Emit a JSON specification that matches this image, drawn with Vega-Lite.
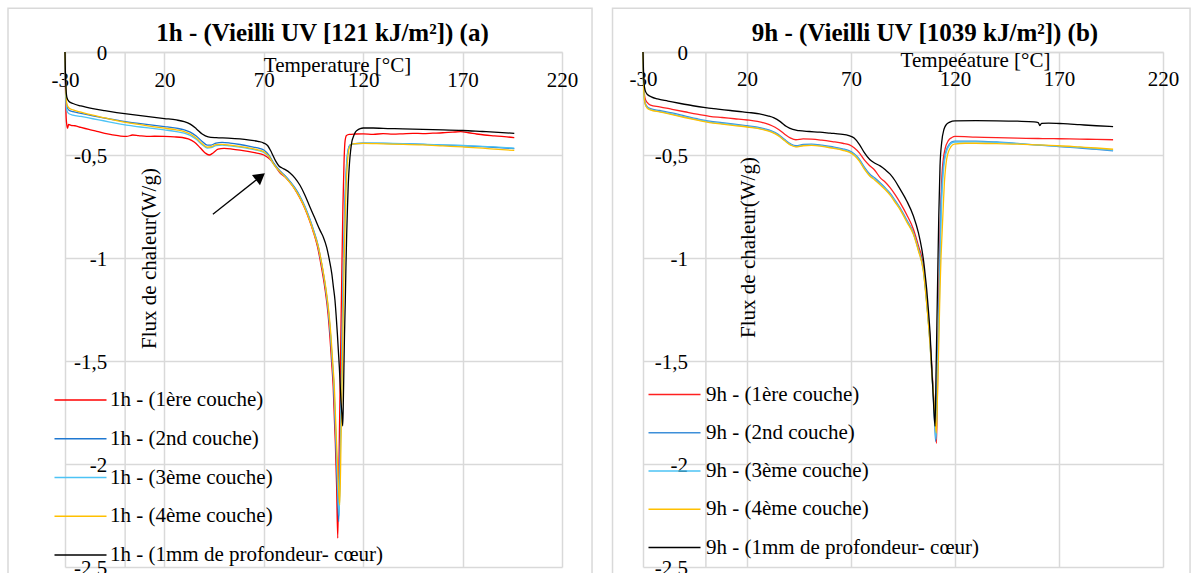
{
  "$schema": "https://vega.github.io/schema/vega-lite/v6.json",
  "background": "white",
  "padding": {"left": 7, "top": 7, "right": 3, "bottom": 0},
  "bounds": "flush",
  "spacing": 81,
  "config": {
    "view": {"stroke": null},
    "font": "Liberation Serif",
    "axis": {
      "labelFont": "Liberation Serif", "labelFontSize": 21, "labelColor": "#000",
      "titleFont": "Liberation Serif", "titleFontSize": 21, "titleFontWeight": "normal", "titleColor": "#000",
      "ticks": false, "domainColor": "#d9d9d9", "domainWidth": 1.5,
      "gridColor": "#d9d9d9", "gridWidth": 1.5, "gridOpacity": 1,
      "labelOverlap": false, "labelBound": false, "labelFlush": false
    },
    "title": {"font": "Liberation Serif", "fontSize": 25, "fontWeight": "bold", "color": "#000", "anchor": "middle", "frame": "group", "offset": -38},
    "legend": {
      "orient": "none", "padding": 0,
      "labelFont": "Liberation Serif", "labelFontSize": 21, "labelColor": "#000", "labelLimit": 500,
      "symbolType": "M-5.2,0L5.2,0", "symbolSize": 100, "symbolStrokeWidth": 1.3
    }
  },
  "datasets": {
    "arrow": [{"x0": 44.4, "y0": -0.788, "x1": 68.3, "y1": -0.605}],
    "a": [
      {"s":"1ère couche","t":-30,"f":0},{"s":"1ère couche","t":-29.8,"f":-0.15},{"s":"1ère couche","t":-29.5,"f":-0.3},{"s":"1ère couche","t":-29.2,"f":-0.345},{"s":"1ère couche","t":-28.7,"f":-0.37},{"s":"1ère couche","t":-28.2,"f":-0.352},{"s":"1ère couche","t":-27,"f":-0.356},{"s":"1ère couche","t":-25,"f":-0.358},{"s":"1ère couche","t":-22,"f":-0.366},{"s":"1ère couche","t":-18,"f":-0.376},{"s":"1ère couche","t":-14,"f":-0.385},{"s":"1ère couche","t":-10,"f":-0.395},{"s":"1ère couche","t":-6,"f":-0.402},{"s":"1ère couche","t":-2,"f":-0.408},{"s":"1ère couche","t":1,"f":-0.41},{"s":"1ère couche","t":4,"f":-0.403},{"s":"1ère couche","t":7,"f":-0.406},{"s":"1ère couche","t":11,"f":-0.41},{"s":"1ère couche","t":15,"f":-0.409},{"s":"1ère couche","t":20,"f":-0.41},{"s":"1ère couche","t":25,"f":-0.412},{"s":"1ère couche","t":29,"f":-0.415},{"s":"1ère couche","t":32,"f":-0.422},{"s":"1ère couche","t":35,"f":-0.437},{"s":"1ère couche","t":38,"f":-0.465},{"s":"1ère couche","t":40.5,"f":-0.49},{"s":"1ère couche","t":42.5,"f":-0.5},{"s":"1ère couche","t":44.5,"f":-0.49},{"s":"1ère couche","t":47,"f":-0.472},{"s":"1ère couche","t":50,"f":-0.468},{"s":"1ère couche","t":54,"f":-0.471},{"s":"1ère couche","t":58,"f":-0.476},{"s":"1ère couche","t":62,"f":-0.482},{"s":"1ère couche","t":66,"f":-0.49},{"s":"1ère couche","t":70,"f":-0.5},{"s":"1ère couche","t":73,"f":-0.52},{"s":"1ère couche","t":75.5,"f":-0.55},{"s":"1ère couche","t":78,"f":-0.585},{"s":"1ère couche","t":80.5,"f":-0.605},{"s":"1ère couche","t":83,"f":-0.632},{"s":"1ère couche","t":85.5,"f":-0.664},{"s":"1ère couche","t":88,"f":-0.706},{"s":"1ère couche","t":90.5,"f":-0.756},{"s":"1ère couche","t":93,"f":-0.818},{"s":"1ère couche","t":95,"f":-0.876},{"s":"1ère couche","t":97,"f":-0.945},{"s":"1ère couche","t":99,"f":-1.045},{"s":"1ère couche","t":100.7,"f":-1.145},{"s":"1ère couche","t":102.3,"f":-1.27},{"s":"1ère couche","t":103.2,"f":-1.375},{"s":"1ère couche","t":104.1,"f":-1.505},{"s":"1ère couche","t":104.9,"f":-1.625},{"s":"1ère couche","t":105.5,"f":-1.78},{"s":"1ère couche","t":106,"f":-1.9},{"s":"1ère couche","t":106.6,"f":-2.1},{"s":"1ère couche","t":107.2,"f":-2.36},{"s":"1ère couche","t":107.8,"f":-2.0},{"s":"1ère couche","t":108.5,"f":-1.55},{"s":"1ère couche","t":109.2,"f":-1.1},{"s":"1ère couche","t":109.8,"f":-0.75},{"s":"1ère couche","t":110.4,"f":-0.52},{"s":"1ère couche","t":110.9,"f":-0.43},{"s":"1ère couche","t":111.6,"f":-0.405},{"s":"1ère couche","t":113,"f":-0.4},{"s":"1ère couche","t":116,"f":-0.398},{"s":"1ère couche","t":120,"f":-0.397},{"s":"1ère couche","t":125,"f":-0.4},{"s":"1ère couche","t":130,"f":-0.396},{"s":"1ère couche","t":135,"f":-0.399},{"s":"1ère couche","t":140,"f":-0.397},{"s":"1ère couche","t":145,"f":-0.395},{"s":"1ère couche","t":150,"f":-0.396},{"s":"1ère couche","t":155,"f":-0.394},{"s":"1ère couche","t":160,"f":-0.392},{"s":"1ère couche","t":165,"f":-0.389},{"s":"1ère couche","t":169,"f":-0.387},{"s":"1ère couche","t":173,"f":-0.392},{"s":"1ère couche","t":177,"f":-0.398},{"s":"1ère couche","t":181,"f":-0.403},{"s":"1ère couche","t":186,"f":-0.407},{"s":"1ère couche","t":191,"f":-0.411},{"s":"1ère couche","t":196,"f":-0.416},

      {"s":"2nd couche","t":-30,"f":0},{"s":"2nd couche","t":-29.8,"f":-0.12},{"s":"2nd couche","t":-29.5,"f":-0.22},{"s":"2nd couche","t":-29,"f":-0.265},{"s":"2nd couche","t":-28,"f":-0.283},{"s":"2nd couche","t":-26,"f":-0.29},{"s":"2nd couche","t":-22,"f":-0.298},{"s":"2nd couche","t":-16,"f":-0.31},{"s":"2nd couche","t":-10,"f":-0.321},{"s":"2nd couche","t":-4,"f":-0.331},{"s":"2nd couche","t":2,"f":-0.341},{"s":"2nd couche","t":8,"f":-0.348},{"s":"2nd couche","t":14,"f":-0.355},{"s":"2nd couche","t":20,"f":-0.362},{"s":"2nd couche","t":26,"f":-0.37},{"s":"2nd couche","t":30,"f":-0.378},{"s":"2nd couche","t":33,"f":-0.389},{"s":"2nd couche","t":36,"f":-0.408},{"s":"2nd couche","t":39,"f":-0.434},{"s":"2nd couche","t":41.5,"f":-0.452},{"s":"2nd couche","t":43.5,"f":-0.452},{"s":"2nd couche","t":46,"f":-0.442},{"s":"2nd couche","t":49,"f":-0.439},{"s":"2nd couche","t":53,"f":-0.442},{"s":"2nd couche","t":58,"f":-0.449},{"s":"2nd couche","t":63,"f":-0.458},{"s":"2nd couche","t":67,"f":-0.466},{"s":"2nd couche","t":70,"f":-0.476},{"s":"2nd couche","t":72.5,"f":-0.5},{"s":"2nd couche","t":75,"f":-0.54},{"s":"2nd couche","t":78.2,"f":-0.578},{"s":"2nd couche","t":80.7,"f":-0.6},{"s":"2nd couche","t":83.2,"f":-0.628},{"s":"2nd couche","t":85.7,"f":-0.66},{"s":"2nd couche","t":88.2,"f":-0.7},{"s":"2nd couche","t":90.7,"f":-0.75},{"s":"2nd couche","t":93.2,"f":-0.812},{"s":"2nd couche","t":95.2,"f":-0.87},{"s":"2nd couche","t":97.2,"f":-0.935},{"s":"2nd couche","t":99.2,"f":-1.035},{"s":"2nd couche","t":100.9,"f":-1.135},{"s":"2nd couche","t":102.5,"f":-1.26},{"s":"2nd couche","t":103.5,"f":-1.37},{"s":"2nd couche","t":104.4,"f":-1.5},{"s":"2nd couche","t":105.2,"f":-1.62},{"s":"2nd couche","t":105.8,"f":-1.78},{"s":"2nd couche","t":106.3,"f":-1.9},{"s":"2nd couche","t":106.9,"f":-2.08},{"s":"2nd couche","t":107.7,"f":-2.28},{"s":"2nd couche","t":108.4,"f":-1.95},{"s":"2nd couche","t":109.2,"f":-1.5},{"s":"2nd couche","t":110,"f":-1.05},{"s":"2nd couche","t":110.8,"f":-0.72},{"s":"2nd couche","t":111.6,"f":-0.55},{"s":"2nd couche","t":112.4,"f":-0.475},{"s":"2nd couche","t":113.3,"f":-0.452},{"s":"2nd couche","t":115,"f":-0.446},{"s":"2nd couche","t":120,"f":-0.443},{"s":"2nd couche","t":130,"f":-0.444},{"s":"2nd couche","t":140,"f":-0.446},{"s":"2nd couche","t":150,"f":-0.448},{"s":"2nd couche","t":160,"f":-0.452},{"s":"2nd couche","t":170,"f":-0.455},{"s":"2nd couche","t":180,"f":-0.459},{"s":"2nd couche","t":188,"f":-0.464},{"s":"2nd couche","t":196,"f":-0.469},

      {"s":"3ème couche","t":-30,"f":0},{"s":"3ème couche","t":-29.8,"f":-0.13},{"s":"3ème couche","t":-29.5,"f":-0.24},{"s":"3ème couche","t":-29,"f":-0.285},{"s":"3ème couche","t":-28,"f":-0.3},{"s":"3ème couche","t":-26,"f":-0.306},{"s":"3ème couche","t":-22,"f":-0.313},{"s":"3ème couche","t":-16,"f":-0.324},{"s":"3ème couche","t":-10,"f":-0.335},{"s":"3ème couche","t":-4,"f":-0.346},{"s":"3ème couche","t":2,"f":-0.356},{"s":"3ème couche","t":8,"f":-0.364},{"s":"3ème couche","t":14,"f":-0.371},{"s":"3ème couche","t":20,"f":-0.378},{"s":"3ème couche","t":26,"f":-0.386},{"s":"3ème couche","t":30,"f":-0.394},{"s":"3ème couche","t":33,"f":-0.405},{"s":"3ème couche","t":36,"f":-0.424},{"s":"3ème couche","t":39,"f":-0.45},{"s":"3ème couche","t":41.5,"f":-0.466},{"s":"3ème couche","t":43.5,"f":-0.464},{"s":"3ème couche","t":46,"f":-0.455},{"s":"3ème couche","t":49,"f":-0.452},{"s":"3ème couche","t":53,"f":-0.456},{"s":"3ème couche","t":58,"f":-0.462},{"s":"3ème couche","t":63,"f":-0.47},{"s":"3ème couche","t":67,"f":-0.478},{"s":"3ème couche","t":70,"f":-0.487},{"s":"3ème couche","t":72.5,"f":-0.508},{"s":"3ème couche","t":75,"f":-0.546},{"s":"3ème couche","t":78.2,"f":-0.583},{"s":"3ème couche","t":80.7,"f":-0.604},{"s":"3ème couche","t":83.2,"f":-0.632},{"s":"3ème couche","t":85.7,"f":-0.664},{"s":"3ème couche","t":88.2,"f":-0.704},{"s":"3ème couche","t":90.7,"f":-0.754},{"s":"3ème couche","t":93.2,"f":-0.816},{"s":"3ème couche","t":95.2,"f":-0.874},{"s":"3ème couche","t":97.2,"f":-0.94},{"s":"3ème couche","t":99.3,"f":-1.04},{"s":"3ème couche","t":101,"f":-1.14},{"s":"3ème couche","t":102.6,"f":-1.265},{"s":"3ème couche","t":103.6,"f":-1.375},{"s":"3ème couche","t":104.5,"f":-1.505},{"s":"3ème couche","t":105.3,"f":-1.625},{"s":"3ème couche","t":105.9,"f":-1.78},{"s":"3ème couche","t":106.4,"f":-1.9},{"s":"3ème couche","t":107,"f":-2.07},{"s":"3ème couche","t":107.9,"f":-2.25},{"s":"3ème couche","t":108.6,"f":-1.9},{"s":"3ème couche","t":109.4,"f":-1.45},{"s":"3ème couche","t":110.2,"f":-1.0},{"s":"3ème couche","t":111,"f":-0.7},{"s":"3ème couche","t":111.8,"f":-0.54},{"s":"3ème couche","t":112.6,"f":-0.47},{"s":"3ème couche","t":113.6,"f":-0.45},{"s":"3ème couche","t":115.5,"f":-0.445},{"s":"3ème couche","t":120,"f":-0.442},{"s":"3ème couche","t":130,"f":-0.443},{"s":"3ème couche","t":140,"f":-0.445},{"s":"3ème couche","t":150,"f":-0.447},{"s":"3ème couche","t":160,"f":-0.451},{"s":"3ème couche","t":170,"f":-0.454},{"s":"3ème couche","t":180,"f":-0.458},{"s":"3ème couche","t":188,"f":-0.462},{"s":"3ème couche","t":196,"f":-0.467},

      {"s":"4ème couche","t":-30,"f":0},{"s":"4ème couche","t":-29.8,"f":-0.1},{"s":"4ème couche","t":-29.5,"f":-0.2},{"s":"4ème couche","t":-29,"f":-0.255},{"s":"4ème couche","t":-28,"f":-0.272},{"s":"4ème couche","t":-26,"f":-0.281},{"s":"4ème couche","t":-22,"f":-0.292},{"s":"4ème couche","t":-16,"f":-0.307},{"s":"4ème couche","t":-10,"f":-0.32},{"s":"4ème couche","t":-4,"f":-0.333},{"s":"4ème couche","t":2,"f":-0.344},{"s":"4ème couche","t":8,"f":-0.353},{"s":"4ème couche","t":14,"f":-0.362},{"s":"4ème couche","t":20,"f":-0.37},{"s":"4ème couche","t":26,"f":-0.378},{"s":"4ème couche","t":30,"f":-0.386},{"s":"4ème couche","t":33,"f":-0.398},{"s":"4ème couche","t":36,"f":-0.418},{"s":"4ème couche","t":39,"f":-0.445},{"s":"4ème couche","t":41.5,"f":-0.462},{"s":"4ème couche","t":43.5,"f":-0.46},{"s":"4ème couche","t":46,"f":-0.45},{"s":"4ème couche","t":49,"f":-0.448},{"s":"4ème couche","t":53,"f":-0.452},{"s":"4ème couche","t":58,"f":-0.459},{"s":"4ème couche","t":63,"f":-0.467},{"s":"4ème couche","t":67,"f":-0.475},{"s":"4ème couche","t":70,"f":-0.484},{"s":"4ème couche","t":72.5,"f":-0.505},{"s":"4ème couche","t":75,"f":-0.545},{"s":"4ème couche","t":78.2,"f":-0.582},{"s":"4ème couche","t":80.7,"f":-0.606},{"s":"4ème couche","t":83.2,"f":-0.634},{"s":"4ème couche","t":85.7,"f":-0.667},{"s":"4ème couche","t":88.2,"f":-0.708},{"s":"4ème couche","t":90.7,"f":-0.758},{"s":"4ème couche","t":93.2,"f":-0.82},{"s":"4ème couche","t":95.2,"f":-0.878},{"s":"4ème couche","t":97.4,"f":-0.945},{"s":"4ème couche","t":99.5,"f":-1.045},{"s":"4ème couche","t":101.2,"f":-1.145},{"s":"4ème couche","t":102.8,"f":-1.27},{"s":"4ème couche","t":103.8,"f":-1.38},{"s":"4ème couche","t":104.7,"f":-1.51},{"s":"4ème couche","t":105.5,"f":-1.63},{"s":"4ème couche","t":106.1,"f":-1.78},{"s":"4ème couche","t":106.6,"f":-1.9},{"s":"4ème couche","t":107.3,"f":-2.05},{"s":"4ème couche","t":108.2,"f":-2.2},{"s":"4ème couche","t":108.9,"f":-1.85},{"s":"4ème couche","t":109.7,"f":-1.4},{"s":"4ème couche","t":110.5,"f":-0.98},{"s":"4ème couche","t":111.3,"f":-0.68},{"s":"4ème couche","t":112.1,"f":-0.53},{"s":"4ème couche","t":112.9,"f":-0.468},{"s":"4ème couche","t":114,"f":-0.449},{"s":"4ème couche","t":116,"f":-0.445},{"s":"4ème couche","t":120,"f":-0.444},{"s":"4ème couche","t":130,"f":-0.446},{"s":"4ème couche","t":140,"f":-0.448},{"s":"4ème couche","t":150,"f":-0.451},{"s":"4ème couche","t":160,"f":-0.456},{"s":"4ème couche","t":170,"f":-0.461},{"s":"4ème couche","t":180,"f":-0.467},{"s":"4ème couche","t":188,"f":-0.473},{"s":"4ème couche","t":196,"f":-0.478},

      {"s":"1mm de profondeur- cœur","t":-30,"f":0},{"s":"1mm de profondeur- cœur","t":-29.8,"f":-0.1},{"s":"1mm de profondeur- cœur","t":-29.5,"f":-0.18},{"s":"1mm de profondeur- cœur","t":-29,"f":-0.222},{"s":"1mm de profondeur- cœur","t":-28,"f":-0.24},{"s":"1mm de profondeur- cœur","t":-26,"f":-0.25},{"s":"1mm de profondeur- cœur","t":-22,"f":-0.262},{"s":"1mm de profondeur- cœur","t":-16,"f":-0.275},{"s":"1mm de profondeur- cœur","t":-10,"f":-0.285},{"s":"1mm de profondeur- cœur","t":-4,"f":-0.294},{"s":"1mm de profondeur- cœur","t":2,"f":-0.302},{"s":"1mm de profondeur- cœur","t":8,"f":-0.309},{"s":"1mm de profondeur- cœur","t":14,"f":-0.316},{"s":"1mm de profondeur- cœur","t":20,"f":-0.323},{"s":"1mm de profondeur- cœur","t":26,"f":-0.33},{"s":"1mm de profondeur- cœur","t":30,"f":-0.338},{"s":"1mm de profondeur- cœur","t":33,"f":-0.35},{"s":"1mm de profondeur- cœur","t":36,"f":-0.372},{"s":"1mm de profondeur- cœur","t":39,"f":-0.398},{"s":"1mm de profondeur- cœur","t":42,"f":-0.412},{"s":"1mm de profondeur- cœur","t":46,"f":-0.416},{"s":"1mm de profondeur- cœur","t":52,"f":-0.418},{"s":"1mm de profondeur- cœur","t":58,"f":-0.422},{"s":"1mm de profondeur- cœur","t":63,"f":-0.428},{"s":"1mm de profondeur- cœur","t":67,"f":-0.434},{"s":"1mm de profondeur- cœur","t":70,"f":-0.442},{"s":"1mm de profondeur- cœur","t":72,"f":-0.455},{"s":"1mm de profondeur- cœur","t":74,"f":-0.49},{"s":"1mm de profondeur- cœur","t":76,"f":-0.53},{"s":"1mm de profondeur- cœur","t":77.5,"f":-0.552},{"s":"1mm de profondeur- cœur","t":79,"f":-0.562},{"s":"1mm de profondeur- cœur","t":81,"f":-0.572},{"s":"1mm de profondeur- cœur","t":83.2,"f":-0.587},{"s":"1mm de profondeur- cœur","t":85.7,"f":-0.612},{"s":"1mm de profondeur- cœur","t":88.2,"f":-0.647},{"s":"1mm de profondeur- cœur","t":90.7,"f":-0.695},{"s":"1mm de profondeur- cœur","t":93.2,"f":-0.752},{"s":"1mm de profondeur- cœur","t":95.8,"f":-0.81},{"s":"1mm de profondeur- cœur","t":98.3,"f":-0.866},{"s":"1mm de profondeur- cœur","t":100,"f":-0.9},{"s":"1mm de profondeur- cœur","t":101.6,"f":-0.947},{"s":"1mm de profondeur- cœur","t":103,"f":-1.01},{"s":"1mm de profondeur- cœur","t":104.2,"f":-1.076},{"s":"1mm de profondeur- cœur","t":105,"f":-1.14},{"s":"1mm de profondeur- cœur","t":105.8,"f":-1.205},{"s":"1mm de profondeur- cœur","t":106.4,"f":-1.28},{"s":"1mm de profondeur- cœur","t":107,"f":-1.367},{"s":"1mm de profondeur- cœur","t":107.5,"f":-1.45},{"s":"1mm de profondeur- cœur","t":108,"f":-1.53},{"s":"1mm de profondeur- cœur","t":108.8,"f":-1.69},{"s":"1mm de profondeur- cœur","t":109.3,"f":-1.76},{"s":"1mm de profondeur- cœur","t":109.7,"f":-1.815},{"s":"1mm de profondeur- cœur","t":110,"f":-1.7},{"s":"1mm de profondeur- cœur","t":110.3,"f":-1.53},{"s":"1mm de profondeur- cœur","t":110.6,"f":-1.37},{"s":"1mm de profondeur- cœur","t":111,"f":-1.205},{"s":"1mm de profondeur- cœur","t":111.3,"f":-1.05},{"s":"1mm de profondeur- cœur","t":111.7,"f":-0.882},{"s":"1mm de profondeur- cœur","t":112.1,"f":-0.75},{"s":"1mm de profondeur- cœur","t":112.5,"f":-0.639},{"s":"1mm de profondeur- cœur","t":113.1,"f":-0.54},{"s":"1mm de profondeur- cœur","t":113.7,"f":-0.477},{"s":"1mm de profondeur- cœur","t":114.3,"f":-0.435},{"s":"1mm de profondeur- cœur","t":115,"f":-0.413},{"s":"1mm de profondeur- cœur","t":116,"f":-0.39},{"s":"1mm de profondeur- cœur","t":117,"f":-0.38},{"s":"1mm de profondeur- cœur","t":118.5,"f":-0.372},{"s":"1mm de profondeur- cœur","t":120,"f":-0.369},{"s":"1mm de profondeur- cœur","t":125,"f":-0.369},{"s":"1mm de profondeur- cœur","t":130,"f":-0.371},{"s":"1mm de profondeur- cœur","t":140,"f":-0.373},{"s":"1mm de profondeur- cœur","t":150,"f":-0.376},{"s":"1mm de profondeur- cœur","t":160,"f":-0.378},{"s":"1mm de profondeur- cœur","t":170,"f":-0.381},{"s":"1mm de profondeur- cœur","t":180,"f":-0.386},{"s":"1mm de profondeur- cœur","t":188,"f":-0.39},{"s":"1mm de profondeur- cœur","t":196,"f":-0.395}
    ],
    "b": [
      {"s":"1ère couche","t":-30,"f":0},{"s":"1ère couche","t":-29.8,"f":-0.1},{"s":"1ère couche","t":-29.5,"f":-0.18},{"s":"1ère couche","t":-29,"f":-0.225},{"s":"1ère couche","t":-28,"f":-0.245},{"s":"1ère couche","t":-26.4,"f":-0.258},{"s":"1ère couche","t":-22,"f":-0.266},{"s":"1ère couche","t":-16,"f":-0.278},{"s":"1ère couche","t":-10,"f":-0.29},{"s":"1ère couche","t":-4,"f":-0.302},{"s":"1ère couche","t":2,"f":-0.312},{"s":"1ère couche","t":8,"f":-0.318},{"s":"1ère couche","t":14,"f":-0.324},{"s":"1ère couche","t":20,"f":-0.33},{"s":"1ère couche","t":25,"f":-0.337},{"s":"1ère couche","t":29,"f":-0.347},{"s":"1ère couche","t":32,"f":-0.358},{"s":"1ère couche","t":35,"f":-0.375},{"s":"1ère couche","t":38,"f":-0.398},{"s":"1ère couche","t":41,"f":-0.418},{"s":"1ère couche","t":43.5,"f":-0.426},{"s":"1ère couche","t":47,"f":-0.422},{"s":"1ère couche","t":51,"f":-0.423},{"s":"1ère couche","t":56,"f":-0.428},{"s":"1ère couche","t":61,"f":-0.435},{"s":"1ère couche","t":66,"f":-0.443},{"s":"1ère couche","t":69,"f":-0.45},{"s":"1ère couche","t":71.5,"f":-0.465},{"s":"1ère couche","t":74,"f":-0.49},{"s":"1ère couche","t":76.5,"f":-0.525},{"s":"1ère couche","t":79,"f":-0.552},{"s":"1ère couche","t":81.5,"f":-0.575},{"s":"1ère couche","t":84,"f":-0.61},{"s":"1ère couche","t":86.5,"f":-0.632},{"s":"1ère couche","t":88.8,"f":-0.658},{"s":"1ère couche","t":91.2,"f":-0.692},{"s":"1ère couche","t":93.6,"f":-0.731},{"s":"1ère couche","t":96.8,"f":-0.79},{"s":"1ère couche","t":100,"f":-0.86},{"s":"1ère couche","t":102.4,"f":-0.94},{"s":"1ère couche","t":104.8,"f":-1.039},{"s":"1ère couche","t":106.4,"f":-1.2},{"s":"1ère couche","t":108,"f":-1.396},{"s":"1ère couche","t":108.8,"f":-1.52},{"s":"1ère couche","t":109.6,"f":-1.655},{"s":"1ère couche","t":110.4,"f":-1.79},{"s":"1ère couche","t":111.1,"f":-1.9},{"s":"1ère couche","t":111.6,"f":-1.62},{"s":"1ère couche","t":112,"f":-1.363},{"s":"1ère couche","t":112.4,"f":-1.1},{"s":"1ère couche","t":112.8,"f":-0.877},{"s":"1ère couche","t":113.3,"f":-0.7},{"s":"1ère couche","t":113.8,"f":-0.585},{"s":"1ère couche","t":114.5,"f":-0.51},{"s":"1ère couche","t":115.2,"f":-0.471},{"s":"1ère couche","t":116.8,"f":-0.43},{"s":"1ère couche","t":118.5,"f":-0.415},{"s":"1ère couche","t":120,"f":-0.41},{"s":"1ère couche","t":130,"f":-0.413},{"s":"1ère couche","t":140,"f":-0.416},{"s":"1ère couche","t":150,"f":-0.418},{"s":"1ère couche","t":160,"f":-0.42},{"s":"1ère couche","t":170,"f":-0.421},{"s":"1ère couche","t":180,"f":-0.423},{"s":"1ère couche","t":188,"f":-0.424},{"s":"1ère couche","t":196,"f":-0.426},

      {"s":"2nd couche","t":-30,"f":0},{"s":"2nd couche","t":-29.8,"f":-0.12},{"s":"2nd couche","t":-29.5,"f":-0.2},{"s":"2nd couche","t":-29,"f":-0.245},{"s":"2nd couche","t":-28,"f":-0.265},{"s":"2nd couche","t":-26.4,"f":-0.275},{"s":"2nd couche","t":-22,"f":-0.284},{"s":"2nd couche","t":-16,"f":-0.296},{"s":"2nd couche","t":-10,"f":-0.31},{"s":"2nd couche","t":-4,"f":-0.324},{"s":"2nd couche","t":2,"f":-0.336},{"s":"2nd couche","t":8,"f":-0.343},{"s":"2nd couche","t":14,"f":-0.35},{"s":"2nd couche","t":20,"f":-0.358},{"s":"2nd couche","t":25,"f":-0.365},{"s":"2nd couche","t":29,"f":-0.374},{"s":"2nd couche","t":32,"f":-0.384},{"s":"2nd couche","t":35,"f":-0.4},{"s":"2nd couche","t":38,"f":-0.424},{"s":"2nd couche","t":41,"f":-0.446},{"s":"2nd couche","t":43.5,"f":-0.455},{"s":"2nd couche","t":47,"f":-0.449},{"s":"2nd couche","t":51,"f":-0.447},{"s":"2nd couche","t":56,"f":-0.452},{"s":"2nd couche","t":61,"f":-0.46},{"s":"2nd couche","t":66,"f":-0.47},{"s":"2nd couche","t":69,"f":-0.479},{"s":"2nd couche","t":71.5,"f":-0.494},{"s":"2nd couche","t":74,"f":-0.52},{"s":"2nd couche","t":76.5,"f":-0.56},{"s":"2nd couche","t":79,"f":-0.592},{"s":"2nd couche","t":81.5,"f":-0.612},{"s":"2nd couche","t":84,"f":-0.635},{"s":"2nd couche","t":86.5,"f":-0.66},{"s":"2nd couche","t":88.8,"f":-0.685},{"s":"2nd couche","t":91.2,"f":-0.72},{"s":"2nd couche","t":93.6,"f":-0.757},{"s":"2nd couche","t":96.8,"f":-0.815},{"s":"2nd couche","t":100,"f":-0.877},{"s":"2nd couche","t":102.4,"f":-0.955},{"s":"2nd couche","t":104.8,"f":-1.056},{"s":"2nd couche","t":106.4,"f":-1.215},{"s":"2nd couche","t":108,"f":-1.412},{"s":"2nd couche","t":108.8,"f":-1.54},{"s":"2nd couche","t":109.6,"f":-1.672},{"s":"2nd couche","t":110.2,"f":-1.8},{"s":"2nd couche","t":110.7,"f":-1.891},{"s":"2nd couche","t":111.2,"f":-1.7},{"s":"2nd couche","t":111.7,"f":-1.48},{"s":"2nd couche","t":112.2,"f":-1.28},{"s":"2nd couche","t":112.7,"f":-1.03},{"s":"2nd couche","t":113.1,"f":-0.796},{"s":"2nd couche","t":113.7,"f":-0.65},{"s":"2nd couche","t":114.4,"f":-0.553},{"s":"2nd couche","t":115.2,"f":-0.5},{"s":"2nd couche","t":116,"f":-0.471},{"s":"2nd couche","t":117.2,"f":-0.448},{"s":"2nd couche","t":118.4,"f":-0.436},{"s":"2nd couche","t":120,"f":-0.433},{"s":"2nd couche","t":130,"f":-0.433},{"s":"2nd couche","t":140,"f":-0.437},{"s":"2nd couche","t":150,"f":-0.444},{"s":"2nd couche","t":160,"f":-0.452},{"s":"2nd couche","t":170,"f":-0.459},{"s":"2nd couche","t":180,"f":-0.466},{"s":"2nd couche","t":188,"f":-0.473},{"s":"2nd couche","t":196,"f":-0.48},

      {"s":"3ème couche","t":-30,"f":0},{"s":"3ème couche","t":-29.8,"f":-0.12},{"s":"3ème couche","t":-29.5,"f":-0.21},{"s":"3ème couche","t":-29,"f":-0.25},{"s":"3ème couche","t":-28,"f":-0.27},{"s":"3ème couche","t":-26.4,"f":-0.28},{"s":"3ème couche","t":-22,"f":-0.289},{"s":"3ème couche","t":-16,"f":-0.301},{"s":"3ème couche","t":-10,"f":-0.315},{"s":"3ème couche","t":-4,"f":-0.328},{"s":"3ème couche","t":2,"f":-0.34},{"s":"3ème couche","t":8,"f":-0.347},{"s":"3ème couche","t":14,"f":-0.354},{"s":"3ème couche","t":20,"f":-0.362},{"s":"3ème couche","t":25,"f":-0.369},{"s":"3ème couche","t":29,"f":-0.378},{"s":"3ème couche","t":32,"f":-0.388},{"s":"3ème couche","t":35,"f":-0.404},{"s":"3ème couche","t":38,"f":-0.428},{"s":"3ème couche","t":41,"f":-0.45},{"s":"3ème couche","t":43.5,"f":-0.459},{"s":"3ème couche","t":47,"f":-0.453},{"s":"3ème couche","t":51,"f":-0.451},{"s":"3ème couche","t":56,"f":-0.456},{"s":"3ème couche","t":61,"f":-0.464},{"s":"3ème couche","t":66,"f":-0.474},{"s":"3ème couche","t":69,"f":-0.483},{"s":"3ème couche","t":71.5,"f":-0.498},{"s":"3ème couche","t":74,"f":-0.525},{"s":"3ème couche","t":76.5,"f":-0.566},{"s":"3ème couche","t":79,"f":-0.598},{"s":"3ème couche","t":81.5,"f":-0.618},{"s":"3ème couche","t":84,"f":-0.64},{"s":"3ème couche","t":86.5,"f":-0.664},{"s":"3ème couche","t":88.8,"f":-0.69},{"s":"3ème couche","t":91.2,"f":-0.725},{"s":"3ème couche","t":93.6,"f":-0.762},{"s":"3ème couche","t":96.8,"f":-0.82},{"s":"3ème couche","t":100,"f":-0.882},{"s":"3ème couche","t":102.4,"f":-0.96},{"s":"3ème couche","t":104.8,"f":-1.062},{"s":"3ème couche","t":106.4,"f":-1.22},{"s":"3ème couche","t":108,"f":-1.415},{"s":"3ème couche","t":108.8,"f":-1.545},{"s":"3ème couche","t":109.6,"f":-1.67},{"s":"3ème couche","t":110.3,"f":-1.8},{"s":"3ème couche","t":110.9,"f":-1.88},{"s":"3ème couche","t":111.4,"f":-1.68},{"s":"3ème couche","t":111.9,"f":-1.46},{"s":"3ème couche","t":112.4,"f":-1.26},{"s":"3ème couche","t":112.9,"f":-1.0},{"s":"3ème couche","t":113.4,"f":-0.78},{"s":"3ème couche","t":114,"f":-0.64},{"s":"3ème couche","t":114.7,"f":-0.55},{"s":"3ème couche","t":115.5,"f":-0.498},{"s":"3ème couche","t":116.4,"f":-0.47},{"s":"3ème couche","t":117.6,"f":-0.45},{"s":"3ème couche","t":118.8,"f":-0.44},{"s":"3ème couche","t":120,"f":-0.437},{"s":"3ème couche","t":130,"f":-0.436},{"s":"3ème couche","t":140,"f":-0.439},{"s":"3ème couche","t":150,"f":-0.445},{"s":"3ème couche","t":160,"f":-0.451},{"s":"3ème couche","t":170,"f":-0.457},{"s":"3ème couche","t":180,"f":-0.463},{"s":"3ème couche","t":188,"f":-0.47},{"s":"3ème couche","t":196,"f":-0.476},

      {"s":"4ème couche","t":-30,"f":0},{"s":"4ème couche","t":-29.8,"f":-0.12},{"s":"4ème couche","t":-29.5,"f":-0.21},{"s":"4ème couche","t":-29,"f":-0.252},{"s":"4ème couche","t":-28,"f":-0.272},{"s":"4ème couche","t":-26.4,"f":-0.281},{"s":"4ème couche","t":-22,"f":-0.291},{"s":"4ème couche","t":-16,"f":-0.304},{"s":"4ème couche","t":-10,"f":-0.318},{"s":"4ème couche","t":-4,"f":-0.331},{"s":"4ème couche","t":2,"f":-0.343},{"s":"4ème couche","t":8,"f":-0.35},{"s":"4ème couche","t":14,"f":-0.357},{"s":"4ème couche","t":20,"f":-0.364},{"s":"4ème couche","t":25,"f":-0.371},{"s":"4ème couche","t":29,"f":-0.38},{"s":"4ème couche","t":32,"f":-0.39},{"s":"4ème couche","t":35,"f":-0.406},{"s":"4ème couche","t":38,"f":-0.43},{"s":"4ème couche","t":41,"f":-0.452},{"s":"4ème couche","t":43.5,"f":-0.461},{"s":"4ème couche","t":47,"f":-0.455},{"s":"4ème couche","t":51,"f":-0.453},{"s":"4ème couche","t":56,"f":-0.458},{"s":"4ème couche","t":61,"f":-0.467},{"s":"4ème couche","t":66,"f":-0.477},{"s":"4ème couche","t":69,"f":-0.486},{"s":"4ème couche","t":71.5,"f":-0.501},{"s":"4ème couche","t":74,"f":-0.53},{"s":"4ème couche","t":76.5,"f":-0.57},{"s":"4ème couche","t":79,"f":-0.602},{"s":"4ème couche","t":81.5,"f":-0.622},{"s":"4ème couche","t":84,"f":-0.645},{"s":"4ème couche","t":86.5,"f":-0.669},{"s":"4ème couche","t":88.8,"f":-0.695},{"s":"4ème couche","t":91.2,"f":-0.73},{"s":"4ème couche","t":93.6,"f":-0.765},{"s":"4ème couche","t":96.8,"f":-0.825},{"s":"4ème couche","t":100,"f":-0.885},{"s":"4ème couche","t":102.4,"f":-0.965},{"s":"4ème couche","t":104.8,"f":-1.065},{"s":"4ème couche","t":106.4,"f":-1.225},{"s":"4ème couche","t":108,"f":-1.42},{"s":"4ème couche","t":108.8,"f":-1.55},{"s":"4ème couche","t":109.6,"f":-1.66},{"s":"4ème couche","t":110.4,"f":-1.77},{"s":"4ème couche","t":111,"f":-1.85},{"s":"4ème couche","t":111.6,"f":-1.66},{"s":"4ème couche","t":112.2,"f":-1.42},{"s":"4ème couche","t":112.8,"f":-1.15},{"s":"4ème couche","t":113.3,"f":-0.99},{"s":"4ème couche","t":113.8,"f":-0.877},{"s":"4ème couche","t":114.4,"f":-0.74},{"s":"4ème couche","t":114.9,"f":-0.634},{"s":"4ème couche","t":115.5,"f":-0.56},{"s":"4ème couche","t":116,"f":-0.52},{"s":"4ème couche","t":117,"f":-0.48},{"s":"4ème couche","t":117.9,"f":-0.462},{"s":"4ème couche","t":119.6,"f":-0.447},{"s":"4ème couche","t":125,"f":-0.443},{"s":"4ème couche","t":130,"f":-0.443},{"s":"4ème couche","t":140,"f":-0.445},{"s":"4ème couche","t":150,"f":-0.447},{"s":"4ème couche","t":160,"f":-0.451},{"s":"4ème couche","t":170,"f":-0.455},{"s":"4ème couche","t":180,"f":-0.461},{"s":"4ème couche","t":188,"f":-0.466},{"s":"4ème couche","t":196,"f":-0.472},

      {"s":"1mm de profondeur- cœur","t":-30,"f":0},{"s":"1mm de profondeur- cœur","t":-29.8,"f":-0.08},{"s":"1mm de profondeur- cœur","t":-29.5,"f":-0.15},{"s":"1mm de profondeur- cœur","t":-29,"f":-0.185},{"s":"1mm de profondeur- cœur","t":-28,"f":-0.205},{"s":"1mm de profondeur- cœur","t":-26,"f":-0.218},{"s":"1mm de profondeur- cœur","t":-23,"f":-0.228},{"s":"1mm de profondeur- cœur","t":-18,"f":-0.238},{"s":"1mm de profondeur- cœur","t":-12,"f":-0.25},{"s":"1mm de profondeur- cœur","t":-6,"f":-0.261},{"s":"1mm de profondeur- cœur","t":0,"f":-0.27},{"s":"1mm de profondeur- cœur","t":6,"f":-0.277},{"s":"1mm de profondeur- cœur","t":12,"f":-0.284},{"s":"1mm de profondeur- cœur","t":18,"f":-0.291},{"s":"1mm de profondeur- cœur","t":22,"f":-0.295},{"s":"1mm de profondeur- cœur","t":26,"f":-0.3},{"s":"1mm de profondeur- cœur","t":30,"f":-0.31},{"s":"1mm de profondeur- cœur","t":33,"f":-0.32},{"s":"1mm de profondeur- cœur","t":36,"f":-0.338},{"s":"1mm de profondeur- cœur","t":39,"f":-0.362},{"s":"1mm de profondeur- cœur","t":42,"f":-0.376},{"s":"1mm de profondeur- cœur","t":45,"f":-0.382},{"s":"1mm de profondeur- cœur","t":50,"f":-0.386},{"s":"1mm de profondeur- cœur","t":55,"f":-0.389},{"s":"1mm de profondeur- cœur","t":60,"f":-0.394},{"s":"1mm de profondeur- cœur","t":65,"f":-0.399},{"s":"1mm de profondeur- cœur","t":69,"f":-0.406},{"s":"1mm de profondeur- cœur","t":71.5,"f":-0.418},{"s":"1mm de profondeur- cœur","t":74,"f":-0.448},{"s":"1mm de profondeur- cœur","t":76.5,"f":-0.49},{"s":"1mm de profondeur- cœur","t":79,"f":-0.522},{"s":"1mm de profondeur- cœur","t":81.5,"f":-0.54},{"s":"1mm de profondeur- cœur","t":84,"f":-0.553},{"s":"1mm de profondeur- cœur","t":86.5,"f":-0.572},{"s":"1mm de profondeur- cœur","t":88.8,"f":-0.593},{"s":"1mm de profondeur- cœur","t":91.2,"f":-0.625},{"s":"1mm de profondeur- cœur","t":93.6,"f":-0.666},{"s":"1mm de profondeur- cœur","t":96.8,"f":-0.723},{"s":"1mm de profondeur- cœur","t":100,"f":-0.796},{"s":"1mm de profondeur- cœur","t":102.4,"f":-0.877},{"s":"1mm de profondeur- cœur","t":104,"f":-0.955},{"s":"1mm de profondeur- cœur","t":104.8,"f":-1.007},{"s":"1mm de profondeur- cœur","t":105.6,"f":-1.075},{"s":"1mm de profondeur- cœur","t":106.4,"f":-1.153},{"s":"1mm de profondeur- cœur","t":107.2,"f":-1.25},{"s":"1mm de profondeur- cœur","t":108,"f":-1.363},{"s":"1mm de profondeur- cœur","t":108.8,"f":-1.526},{"s":"1mm de profondeur- cœur","t":109.6,"f":-1.688},{"s":"1mm de profondeur- cœur","t":110.4,"f":-1.817},{"s":"1mm de profondeur- cœur","t":110.9,"f":-1.55},{"s":"1mm de profondeur- cœur","t":111.5,"f":-1.2},{"s":"1mm de profondeur- cœur","t":112.2,"f":-0.796},{"s":"1mm de profondeur- cœur","t":112.8,"f":-0.553},{"s":"1mm de profondeur- cœur","t":113.6,"f":-0.439},{"s":"1mm de profondeur- cœur","t":114.7,"f":-0.375},{"s":"1mm de profondeur- cœur","t":116,"f":-0.35},{"s":"1mm de profondeur- cœur","t":117.5,"f":-0.34},{"s":"1mm de profondeur- cœur","t":120,"f":-0.334},{"s":"1mm de profondeur- cœur","t":130,"f":-0.333},{"s":"1mm de profondeur- cœur","t":140,"f":-0.334},{"s":"1mm de profondeur- cœur","t":150,"f":-0.336},{"s":"1mm de profondeur- cœur","t":158,"f":-0.339},{"s":"1mm de profondeur- cœur","t":160,"f":-0.343},{"s":"1mm de profondeur- cœur","t":160.8,"f":-0.357},{"s":"1mm de profondeur- cœur","t":161.6,"f":-0.346},{"s":"1mm de profondeur- cœur","t":165,"f":-0.345},{"s":"1mm de profondeur- cœur","t":172,"f":-0.348},{"s":"1mm de profondeur- cœur","t":180,"f":-0.353},{"s":"1mm de profondeur- cœur","t":188,"f":-0.358},{"s":"1mm de profondeur- cœur","t":196,"f":-0.362}
    ]
  },
  "hconcat": [
    {
      "width": 497,
      "height": 515,
      "title": {"text": "1h - (Vieilli UV [121 kJ/m²]) (a)", "dx": 9},
      "layer": [
        {
          "data": {"values": [{}]},
          "mark": {"type": "rect", "filled": false, "color": "#d9d9d9", "strokeWidth": 1.5},
          "encoding": {
            "x": {"datum": -58.67, "type": "quantitative"},
            "x2": {"datum": 235.1},
            "y": {"datum": 0.2121, "type": "quantitative"},
            "y2": {"datum": -2.7}
          }
        },
        {
          "data": {"name": "a"},
          "mark": {"type": "line", "interpolate": "monotone", "strokeWidth": 1.3},
          "encoding": {
            "x": {
              "field": "t", "type": "quantitative",
              "scale": {"domain": [-30, 220], "nice": false, "zero": false},
              "axis": {
                "orient": "top", "values": [-30, 20, 70, 120, 170, 220],
                "labelExpr": "toString(datum.value)", "labelBaseline": "middle", "labelPadding": -28,
                "grid": true, "title": "Temperature [°C]",
                "titleX": 272, "titleY": 13, "titleBaseline": "middle", "titleAlign": "center", "titleAngle": 0
              }
            },
            "y": {
              "field": "f", "type": "quantitative",
              "scale": {"domain": [-2.5, 0], "nice": false, "zero": false},
              "axis": {
                "orient": "left", "offset": -59.64, "values": [0, -0.5, -1, -1.5, -2, -2.5],
                "labelExpr": "replace(toString(datum.value), '.', ',')", "labelPadding": 18, "labelOffset": 1,
                "grid": true, "title": "Flux de chaleur(W/g)",
                "titleX": 25, "titleY": 206, "titleAngle": -90, "titleAlign": "center", "titleBaseline": "middle"
              }
            },
            "color": {
              "field": "s", "type": "nominal",
              "scale": {
                "domain": ["1ère couche", "2nd couche", "3ème couche", "4ème couche", "1mm de profondeur- cœur"],
                "range": ["#ff0000", "#1f78d1", "#4dc3f5", "#ffc000", "#000000"]
              },
              "legend": {"title": null, "legendX": 5, "legendY": 337.5, "labelOffset": 19, "rowPadding": 16.75, "labelFont": "Liberation Serif", "labelExpr": "'1h - (' + datum.label + ')'"}
            }
          }
        },
        {
          "data": {"name": "arrow"},
          "mark": {"type": "rule", "color": "#000", "strokeWidth": 1.3},
          "encoding": {
            "x": {"field": "x0", "type": "quantitative"},
            "y": {"field": "y0", "type": "quantitative"},
            "x2": {"field": "x1"},
            "y2": {"field": "y1"}
          }
        },
        {
          "data": {"name": "arrow"},
          "mark": {"type": "point", "shape": "triangle-up", "filled": true, "color": "#000", "opacity": 1, "size": 170, "angle": 52},
          "encoding": {
            "x": {"field": "x1", "type": "quantitative"},
            "y": {"field": "y1", "type": "quantitative"}
          }
        }
      ]
    },
    {
      "width": 520,
      "height": 515,
      "title": {"text": "9h - (Vieilli UV [1039 kJ/m²]) (b)", "dx": 22},
      "layer": [
        {
          "data": {"values": [{}]},
          "mark": {"type": "rect", "filled": false, "color": "#d9d9d9", "strokeWidth": 1.5},
          "encoding": {
            "x": {"datum": -44.66, "type": "quantitative"},
            "x2": {"datum": 233},
            "y": {"datum": 0.2121, "type": "quantitative"},
            "y2": {"datum": -2.7}
          }
        },
        {
          "data": {"name": "b"},
          "mark": {"type": "line", "interpolate": "monotone", "strokeWidth": 1.3},
          "encoding": {
            "x": {
              "field": "t", "type": "quantitative",
              "scale": {"domain": [-30, 220], "nice": false, "zero": false},
              "axis": {
                "orient": "top", "values": [-30, 20, 70, 120, 170, 220],
                "labelExpr": "toString(datum.value)", "labelBaseline": "middle", "labelPadding": -27,
                "grid": true, "title": "Tempeéature [°C]",
                "titleX": 332, "titleY": 8, "titleBaseline": "middle", "titleAlign": "center", "titleAngle": 0
              }
            },
            "y": {
              "field": "f", "type": "quantitative",
              "scale": {"domain": [-2.5, 0], "nice": false, "zero": false},
              "axis": {
                "orient": "left", "offset": -62.4, "values": [0, -0.5, -1, -1.5, -2, -2.5],
                "labelExpr": "replace(toString(datum.value), '.', ',')", "labelPadding": 18, "labelOffset": 1,
                "grid": true, "title": "Flux de chaleur(W/g)",
                "titleX": 43, "titleY": 195, "titleAngle": -90, "titleAlign": "center", "titleBaseline": "middle"
              }
            },
            "color": {
              "field": "s", "type": "nominal",
              "scale": {
                "domain": ["1ère couche", "2nd couche", "3ème couche", "4ème couche", "1mm de profondeur- cœur"],
                "range": ["#ff2020", "#3d8fd9", "#4dc3f5", "#ffc000", "#000000"]
              },
              "legend": {"title": null, "legendX": 21, "legendY": 332, "labelOffset": 21, "rowPadding": 16.25, "labelFont": "Liberation Serif", "labelExpr": "'9h - (' + datum.label + ')'"}
            }
          }
        }
      ]
    }
  ],
  "resolve": {"scale": {"color": "independent"}, "legend": {"color": "independent"}}
}
